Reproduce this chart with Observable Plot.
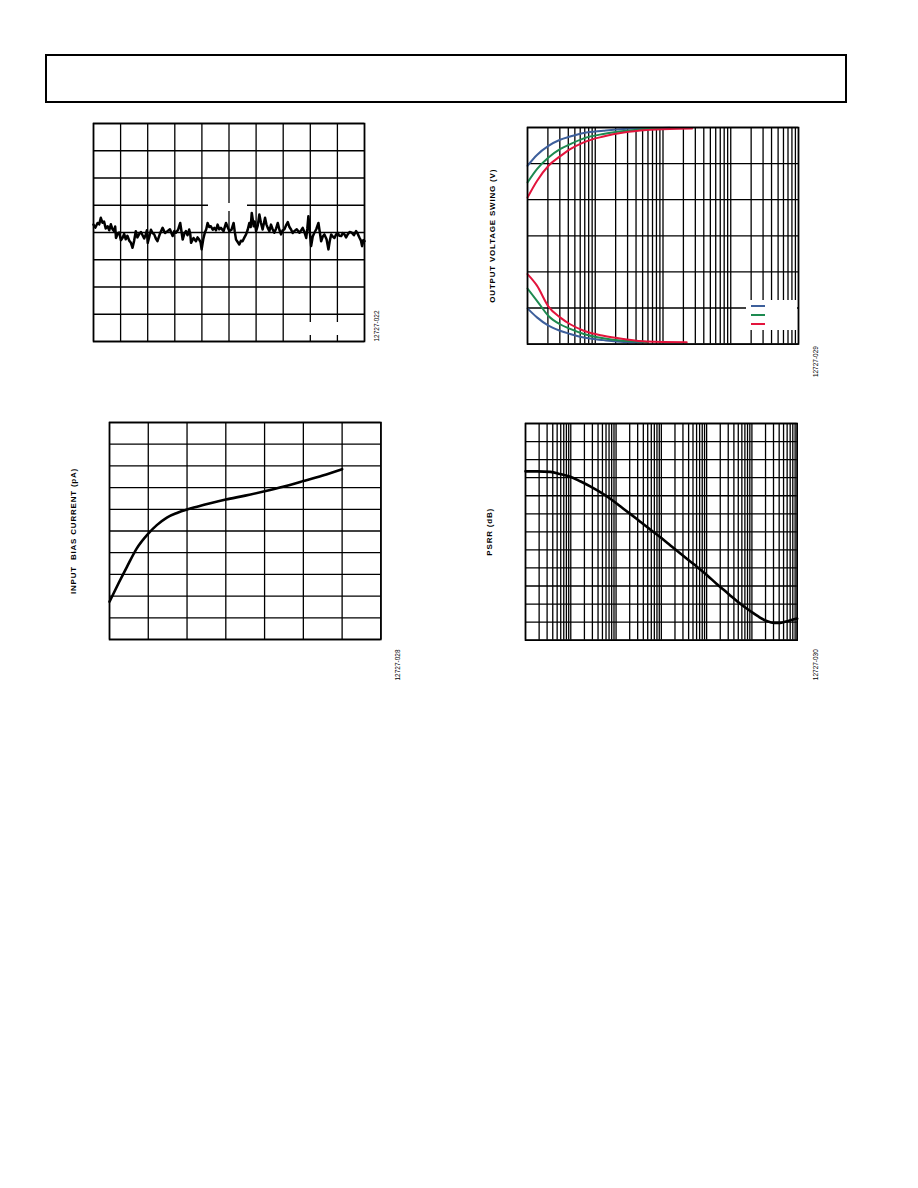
<!DOCTYPE html>
<html><head><meta charset="utf-8">
<script src="https://cdn.jsdelivr.net/npm/d3@7"></script>
<script src="https://cdn.jsdelivr.net/npm/@observablehq/plot@0.6"></script>
<style>
body{margin:0;background:#fff;}
#page{position:relative;width:918px;height:1188px;overflow:hidden;font-family:"Liberation Sans",Arial,sans-serif;}
.chart{position:absolute;}
.hdr{position:absolute;left:45px;top:54px;width:798px;height:45px;border:2px solid #000;}
.blank{position:absolute;background:#fff;}
.sw{position:absolute;height:2.5px;width:14px;}
</style></head><body><div id="page"><div class="hdr"></div></div>
<script>
// ---------- Chart 1: noise trace (time divisions vs amplitude divisions) ----------
const noiseT = [0,0.07,0.15,0.21,0.27,0.33,0.39,0.45,0.52,0.58,0.64,0.70,0.76,0.80,0.83,0.89,0.95,1.01,1.07,1.13,1.19,1.25,1.32,1.38,1.44,1.50,1.56,1.62,1.69,1.75,1.81,1.87,1.93,1.97,2.00,2.06,2.12,2.18,2.24,2.30,2.36,2.45,2.55,2.64,2.73,2.82,2.92,2.98,3.04,3.12,3.20,3.25,3.29,3.35,3.41,3.47,3.53,3.57,3.60,3.69,3.78,3.84,3.90,3.95,3.99,4.05,4.11,4.16,4.21,4.27,4.33,4.40,4.46,4.52,4.58,4.64,4.70,4.80,4.89,4.95,5.01,5.09,5.17,5.21,5.26,5.32,5.38,5.44,5.50,5.57,5.63,5.69,5.75,5.80,5.84,5.88,5.91,5.95,6.00,6.06,6.12,6.18,6.24,6.28,6.33,6.38,6.43,6.49,6.55,6.61,6.67,6.74,6.80,6.86,6.92,6.98,7.04,7.10,7.17,7.23,7.29,7.35,7.41,7.50,7.60,7.66,7.72,7.78,7.85,7.89,7.93,7.98,8.03,8.09,8.15,8.22,8.30,8.35,8.40,8.46,8.52,8.60,8.67,8.72,8.77,8.83,8.89,8.95,9.01,9.07,9.14,9.20,9.26,9.32,9.38,9.45,9.53,9.61,9.69,9.75,9.82,9.87,9.91,9.96,10.0];
const noiseV = [0.29,0.18,0.35,0.30,0.54,0.36,0.40,0.15,0.23,0.08,0.30,0.12,0.05,0.22,-0.20,-0.05,0.00,-0.28,-0.20,-0.05,-0.25,-0.12,-0.30,-0.38,-0.56,-0.30,0.05,-0.18,-0.05,0.02,-0.10,-0.22,-0.07,0.08,-0.38,-0.15,0.10,-0.02,-0.07,-0.22,-0.32,-0.05,0.17,-0.02,0.05,0.12,-0.13,0.05,-0.01,0.10,0.35,0.02,-0.26,-0.05,0.05,-0.10,0.11,-0.05,-0.38,-0.20,-0.32,-0.18,-0.26,-0.35,-0.62,-0.25,0.00,0.12,0.35,0.20,0.23,0.10,0.17,0.08,0.29,0.12,0.17,0.05,0.35,0.20,0.05,0.10,0.35,0.05,-0.26,-0.35,-0.44,-0.30,-0.32,-0.18,-0.07,0.10,0.35,0.20,0.72,0.45,0.23,0.40,0.05,0.25,0.66,0.35,0.11,0.30,0.54,0.30,0.17,0.05,0.29,0.12,-0.01,0.15,0.35,0.10,-0.07,0.08,0.11,0.25,0.38,0.20,0.11,-0.02,0.05,0.12,-0.01,0.08,0.17,0.02,-0.20,0.15,0.60,0.05,-0.50,-0.15,-0.01,0.12,0.35,0.02,-0.32,-0.15,-0.07,-0.25,-0.62,-0.30,-0.07,-0.15,-0.20,-0.08,-0.01,-0.12,-0.13,-0.02,-0.07,-0.18,-0.07,0.02,-0.01,-0.10,0.05,-0.05,-0.20,-0.30,-0.50,-0.28,-0.32];
const noiseGridX = [0,1,2,3,4,5,6,7,8,9,10];
const noiseGridY = [-4,-3,-2,-1,0,1,2,3,4];

// ---------- Chart 2: output voltage swing vs load (log x) ----------
const swingSeries = ["A","B","C"];
const swingColors = ["#3d5f9b","#1d8a50","#e3143c"];
const blueHighX = [10,13.8,20.4,30.2,42.7,67.6,132,263,575,1259];
const blueHighY = [4.94,5.24,5.49,5.66,5.75,5.85,5.91,5.96,5.98,5.99];
const greenHighX = [10,13.8,20.4,30.2,42.7,67.6,132,263,575,912];
const greenHighY = [4.48,4.85,5.17,5.40,5.54,5.70,5.82,5.90,5.96,5.97];
const redHighX = [10,13.8,20.4,30.2,42.7,67.6,132,263,575,1259,2692];
const redHighY = [4.06,4.52,4.94,5.20,5.40,5.59,5.75,5.86,5.93,5.96,5.97];
const blueLowX = [10,13.8,20.4,30.2,42.7,67.6,132,263,513];
const blueLowY = [0.99,0.74,0.51,0.37,0.28,0.18,0.11,0.06,0.05];
const greenLowX = [10,13.8,20.4,30.2,42.7,67.6,132,263,575];
const greenLowY = [1.54,1.20,0.78,0.55,0.42,0.28,0.16,0.09,0.06];
const redLowX = [10,13.8,20.4,30.2,42.7,67.6,132,263,575,2239];
const redLowY = [1.94,1.62,1.04,0.74,0.55,0.37,0.23,0.14,0.07,0.05];
const swingGridY = [0,1,2,3,4,5,6];

// ---------- Chart 3: input bias current ----------
const biasX = [0,0.23,0.45,0.70,1.00,1.22,1.48,1.74,2.00,2.26,2.60,3.00,3.50,4.00,4.50,5.00,5.50,6.00];
const biasY = [1.74,2.58,3.35,4.19,4.88,5.27,5.62,5.83,5.99,6.12,6.28,6.45,6.63,6.83,7.05,7.30,7.56,7.85];
const biasGridX = [0,1,2,3,4,5,6,7];
const biasGridY = [0,1,2,3,4,5,6,7,8,9,10];

// ---------- Chart 4: PSRR vs frequency (log x) ----------
const psrrF = [10,18.2,35.5,58.9,97.7,162,275,457,759,1259,2089,3467,5248,9550,15849,26303,52481,102329,169824,309030,562341,933254,1412538,2187762,3090295,4265795,6025596,10000000];
const psrrDb = [93.5,93.5,93.2,92,90.5,88,85,81.8,78.2,74,69.8,65.5,62,57,52.5,48,42,36,31,25.5,20,16,13,10.5,9.6,9.6,10.5,12];
const psrrGridY = [0,10,20,30,40,50,60,70,80,90,100,110,120];

const titles = ["", "OUTPUT VOLTAGE SWING (V)", "INPUT  BIAS CURRENT (pA)", "PSRR (dB)"];
const figIds = ["12727-022", "12727-029", "12727-028", "12727-030"];

const page = document.getElementById("page");
const FONT = "Liberation Sans, Arial, sans-serif";
function place(svg, left, top) {
  svg.querySelectorAll("text").forEach(t => {
    if (t.closest("g") && t.closest("g").getAttribute("font-weight") === "bold") t.setAttribute("letter-spacing", "0.8");
  });
  const d = document.createElement("div");
  d.className = "chart";
  d.style.left = left + "px"; d.style.top = top + "px";
  d.appendChild(svg); page.appendChild(d);
}
function blank(l, t, w, h) {
  const d = document.createElement("div");
  d.className = "blank";
  Object.assign(d.style, {left: l + "px", top: t + "px", width: w + "px", height: h + "px"});
  page.appendChild(d); return d;
}
const gridStyle = {stroke: "#000", strokeWidth: 1.3};
const frameStyle = {stroke: "#000", strokeWidth: 1.6};
function titleMark(t, dx) {
  return Plot.text([t], {text: d => d, frameAnchor: "left", textAnchor: "middle", dx, rotate: -90, fontSize: 8, fontWeight: "bold", fill: "#000", fontFamily: FONT});
}
function idMark(t, dx, dy) {
  return Plot.text([t], {text: d => d, frameAnchor: "bottom-right", dx, dy, rotate: -90, textAnchor: "start", fontSize: 6.5, fill: "#000", fontFamily: FONT});
}

// Chart 1
{
  const m = {l: 20, r: 30, t: 10, b: 10}, W = 271, H = 218;
  const noise = noiseT.map((t, i) => ({t, v: noiseV[i]}));
  const svg = Plot.plot({
    width: m.l + W + m.r, height: m.t + H + m.b,
    marginLeft: m.l, marginRight: m.r, marginTop: m.t, marginBottom: m.b,
    x: {domain: [0, 10], axis: null}, y: {domain: [-4, 4], axis: null},
    style: {background: "transparent", fontFamily: FONT},
    marks: [
      Plot.ruleX(noiseGridX, gridStyle),
      Plot.ruleY(noiseGridY, gridStyle),
      Plot.line(noise, {x: "t", y: "v", stroke: "#000", strokeWidth: 2.5, strokeLinejoin: "round"}),
      Plot.frame(frameStyle),
      idMark(figIds[0], 14, 0)
    ]
  });
  place(svg, 92.5 - m.l, 122.5 - m.t);
  blank(208, 203, 39, 8);
  blank(296, 322, 56, 13);
}

// Chart 2
{
  const m = {l: 45, r: 30, t: 10, b: 45}, W = 271, H = 216.6;
  const rows = [];
  const sets = [["A", "hi", blueHighX, blueHighY], ["B", "hi", greenHighX, greenHighY], ["C", "hi", redHighX, redHighY],
                ["A", "lo", blueLowX, blueLowY], ["B", "lo", greenLowX, greenLowY], ["C", "lo", redLowX, redLowY]];
  for (const [s, k, xs, ys] of sets) xs.forEach((x, i) => rows.push({series: s, curve: s + k, x, y: ys[i]}));
  const gx = d3.scaleLog().domain([10, 1e5]).ticks(40);
  const svg = Plot.plot({
    width: m.l + W + m.r, height: m.t + H + m.b,
    marginLeft: m.l, marginRight: m.r, marginTop: m.t, marginBottom: m.b,
    x: {type: "log", domain: [10, 1e5], axis: null}, y: {domain: [0, 6], axis: null},
    color: {type: "ordinal", domain: swingSeries, range: swingColors},
    style: {background: "transparent", fontFamily: FONT},
    marks: [
      Plot.ruleX(gx, gridStyle),
      Plot.ruleY(swingGridY, gridStyle),
      Plot.line(rows, {x: "x", y: "y", z: "curve", stroke: "series", strokeWidth: 2, curve: "monotone-x"}),
      Plot.frame(frameStyle),
      titleMark(titles[1], -35),
      idMark(figIds[1], 20, 33)
    ]
  });
  place(svg, 527.3 - m.l, 126.7 - m.t);
  blank(746, 300, 51, 30);
  swingColors.forEach((c, i) => {
    const s = document.createElement("div");
    s.className = "sw"; s.style.background = c;
    s.style.left = "751px"; s.style.top = (304.5 + i * 9.2) + "px";
    page.appendChild(s);
  });
}

// Chart 3
{
  const m = {l: 45, r: 30, t: 10, b: 50}, W = 271.4, H = 217;
  const bias = biasX.map((x, i) => ({x, y: biasY[i]}));
  const svg = Plot.plot({
    width: m.l + W + m.r, height: m.t + H + m.b,
    marginLeft: m.l, marginRight: m.r, marginTop: m.t, marginBottom: m.b,
    x: {domain: [0, 7], axis: null}, y: {domain: [0, 10], axis: null},
    style: {background: "transparent", fontFamily: FONT},
    marks: [
      Plot.ruleX(biasGridX, gridStyle),
      Plot.ruleY(biasGridY, gridStyle),
      Plot.line(bias, {x: "x", y: "y", stroke: "#000", strokeWidth: 2.6, curve: "monotone-x"}),
      Plot.frame(frameStyle),
      titleMark(titles[2], -36),
      idMark(figIds[2], 19, 41)
    ]
  });
  place(svg, 109.3 - m.l, 422.3 - m.t);
}

// Chart 4
{
  const m = {l: 45, r: 30, t: 10, b: 50}, W = 271.7, H = 216.7;
  const psrr = psrrF.map((f, i) => ({f, db: psrrDb[i]}));
  const gx = d3.scaleLog().domain([10, 1e7]).ticks(60);
  const svg = Plot.plot({
    width: m.l + W + m.r, height: m.t + H + m.b,
    marginLeft: m.l, marginRight: m.r, marginTop: m.t, marginBottom: m.b,
    x: {type: "log", domain: [10, 1e7], axis: null}, y: {domain: [0, 120], axis: null},
    style: {background: "transparent", fontFamily: FONT},
    marks: [
      Plot.ruleX(gx, gridStyle),
      Plot.ruleY(psrrGridY, gridStyle),
      Plot.line(psrr, {x: "f", y: "db", stroke: "#000", strokeWidth: 2.6, curve: "monotone-x"}),
      Plot.frame(frameStyle),
      titleMark(titles[3], -36),
      idMark(figIds[3], 21, 40)
    ]
  });
  place(svg, 525 - m.l, 423.3 - m.t);
}
</script></body></html>
